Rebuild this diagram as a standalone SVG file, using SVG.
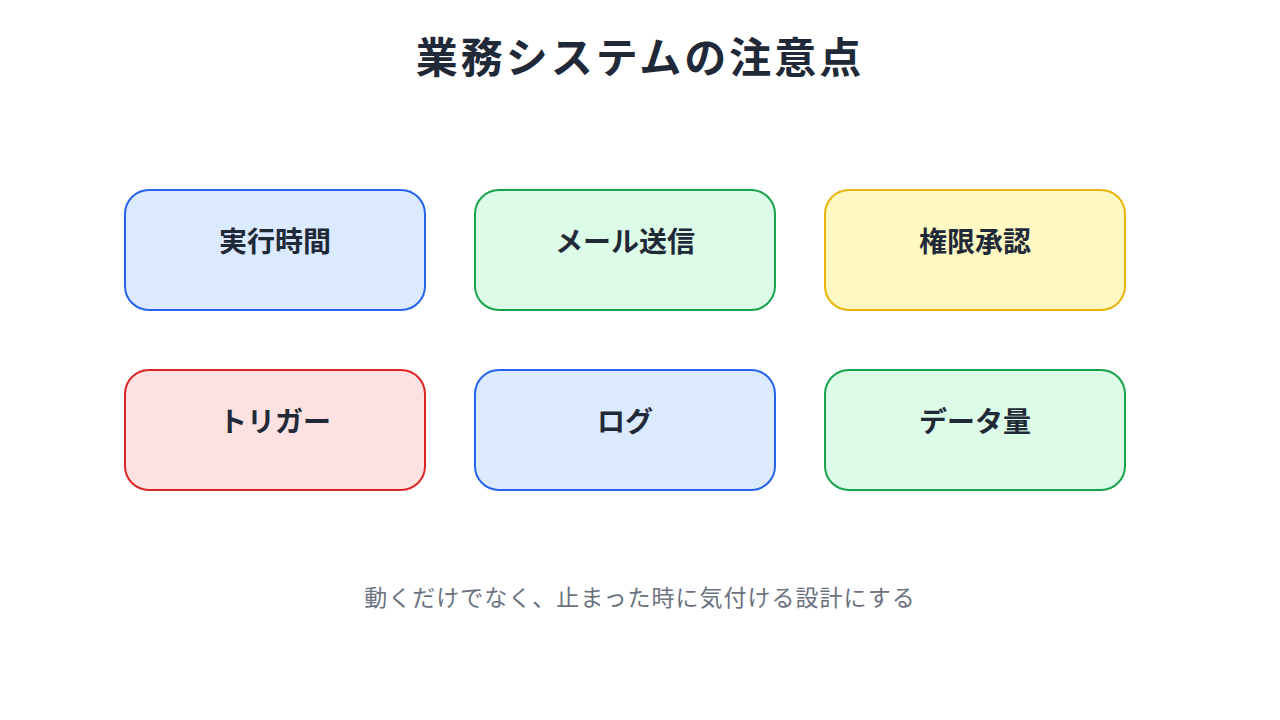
<svg xmlns="http://www.w3.org/2000/svg" width="1280" height="720" viewBox="0 0 1280 720">
<style>
.t{font-family:"Noto Sans CJK JP","Noto Sans",sans-serif;fill:#1f2937;text-anchor:middle}
.n{font-size:28px;font-weight:bold}
.b rect{stroke-width:2}
.blue{fill:#dbeafe;stroke:#2563eb}
.green{fill:#dcfce7;stroke:#16a34a}
.yellow{fill:#fef9c3;stroke:#eab308}
.red{fill:#fee2e2;stroke:#dc2626}
</style>
<rect width="1280" height="720" fill="#ffffff"/>
<text class="t" x="640" y="73" font-size="42" font-weight="bold" letter-spacing="3">業務システムの注意点</text>
<g id="n1" class="b"><rect class="blue" x="125" y="190" width="300" height="120" rx="24"/><text class="t n" x="275" y="252">実行時間</text></g>
<g id="n2" class="b"><rect class="green" x="475" y="190" width="300" height="120" rx="24"/><text class="t n" x="625" y="252">メール送信</text></g>
<g id="n3" class="b"><rect class="yellow" x="825" y="190" width="300" height="120" rx="24"/><text class="t n" x="975" y="252">権限承認</text></g>
<g id="n4" class="b"><rect class="red" x="125" y="370" width="300" height="120" rx="24"/><text class="t n" x="275" y="432">トリガー</text></g>
<g id="n5" class="b"><rect class="blue" x="475" y="370" width="300" height="120" rx="24"/><text class="t n" x="625" y="432">ログ</text></g>
<g id="n6" class="b"><rect class="green" x="825" y="370" width="300" height="120" rx="24"/><text class="t n" x="975" y="432">データ量</text></g>
<g id="connectors"/>
<text class="t" x="640" y="606" font-size="23" style="fill:#6b7280" letter-spacing="1">動くだけでなく、止まった時に気付ける設計にする</text>
</svg>
